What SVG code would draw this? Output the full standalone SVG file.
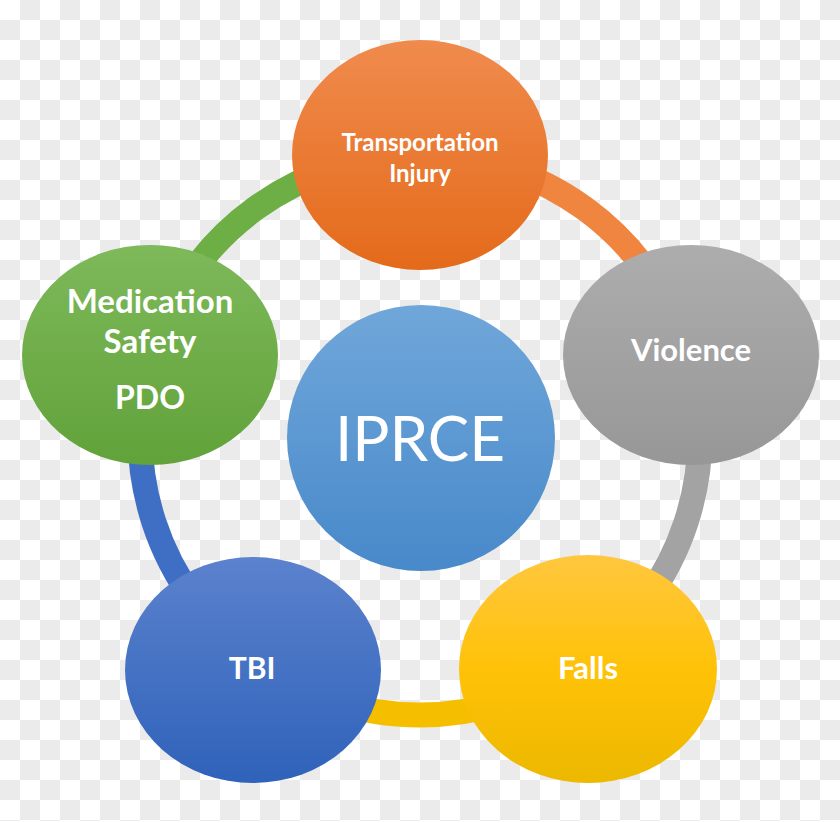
<svg xmlns="http://www.w3.org/2000/svg" width="840" height="821" viewBox="0 0 840 821">
  <defs>
    <pattern id="checker" x="0" y="0" width="40" height="40" patternUnits="userSpaceOnUse">
      <rect width="40" height="40" fill="#FFFFFF"/>
      <rect x="20" y="0" width="20" height="20" fill="#EBEBEB"/>
      <rect x="0" y="20" width="20" height="20" fill="#EBEBEB"/>
    </pattern>
    <linearGradient id="gOrange" x1="0" y1="0" x2="0" y2="1">
      <stop offset="0" stop-color="#F08B4D"/>
      <stop offset="1" stop-color="#E46A1A"/>
    </linearGradient>
    <linearGradient id="gGreen" x1="0" y1="0" x2="0" y2="1">
      <stop offset="0" stop-color="#7EB95A"/>
      <stop offset="1" stop-color="#61A23A"/>
    </linearGradient>
    <linearGradient id="gGray" x1="0" y1="0" x2="0" y2="1">
      <stop offset="0" stop-color="#ADADAD"/>
      <stop offset="1" stop-color="#979797"/>
    </linearGradient>
    <linearGradient id="gBlue" x1="0" y1="0" x2="0" y2="1">
      <stop offset="0" stop-color="#5B82CD"/>
      <stop offset="1" stop-color="#2F62BA"/>
    </linearGradient>
    <linearGradient id="gYellow" x1="0" y1="0" x2="0" y2="1">
      <stop offset="0" stop-color="#FFC73F"/>
      <stop offset="0.5" stop-color="#FFC208"/>
      <stop offset="1" stop-color="#ECB800"/>
    </linearGradient>
    <linearGradient id="gCenter" x1="0" y1="0" x2="0" y2="1">
      <stop offset="0" stop-color="#70A7DA"/>
      <stop offset="1" stop-color="#4889CA"/>
    </linearGradient>
    <style>
      .ring { fill: none; stroke-width: 25; }
      .lbl { font-family: Lato, "Open Sans", "Liberation Sans", sans-serif; font-weight: bold; fill: #FFFFFF; text-anchor: middle; }
      .big { font-family: Lato, "Open Sans", "Liberation Sans", sans-serif; font-weight: normal; fill: #FFFFFF; text-anchor: middle; }
    </style>
  </defs>

  <rect width="840" height="821" fill="url(#checker)"/>

  <g id="connectors">
    <path class="ring" stroke="#6DAF45" d="M153.7 348.5 A280 280 0 0 1 420 155"/>
    <path class="ring" stroke="#F08540" d="M420 155 A280 280 0 0 1 686.3 348.5"/>
    <path class="ring" stroke="#A3A3A3" d="M686.3 348.5 A280 280 0 0 1 584.6 661.5"/>
    <path class="ring" stroke="#F5BF00" d="M584.6 661.5 A280 280 0 0 1 255.4 661.5"/>
    <path class="ring" stroke="#3F6EC5" d="M255.4 661.5 A280 280 0 0 1 153.7 348.5"/>
  </g>

  <g id="node-transportation">
    <ellipse cx="420" cy="155" rx="128" ry="115" fill="url(#gOrange)"/>
    <text class="lbl" x="420" y="151" font-size="24">Transportation</text>
    <text class="lbl" x="420" y="182" font-size="24">Injury</text>
  </g>

  <g id="node-violence">
    <ellipse cx="691" cy="355" rx="128" ry="110" fill="url(#gGray)"/>
    <text class="lbl" x="691" y="361" font-size="31">Violence</text>
  </g>

  <g id="node-falls">
    <ellipse cx="588" cy="669" rx="129" ry="114" fill="url(#gYellow)"/>
    <text class="lbl" x="588" y="679" font-size="31">Falls</text>
  </g>

  <g id="node-tbi">
    <ellipse cx="253" cy="670" rx="128" ry="113" fill="url(#gBlue)"/>
    <text class="lbl" x="252" y="679" font-size="30">TBI</text>
  </g>

  <g id="node-medication">
    <ellipse cx="150" cy="355" rx="128" ry="110" fill="url(#gGreen)"/>
    <text class="lbl" x="150" y="313" font-size="33">Medication</text>
    <text class="lbl" x="150" y="353" font-size="33">Safety</text>
    <text class="lbl" x="150" y="409" font-size="32">PDO</text>
  </g>

  <g id="node-iprce">
    <ellipse cx="421" cy="438" rx="134" ry="133" fill="url(#gCenter)"/>
    <text class="big" x="420" y="461" font-size="62">IPRCE</text>
  </g>
</svg>
